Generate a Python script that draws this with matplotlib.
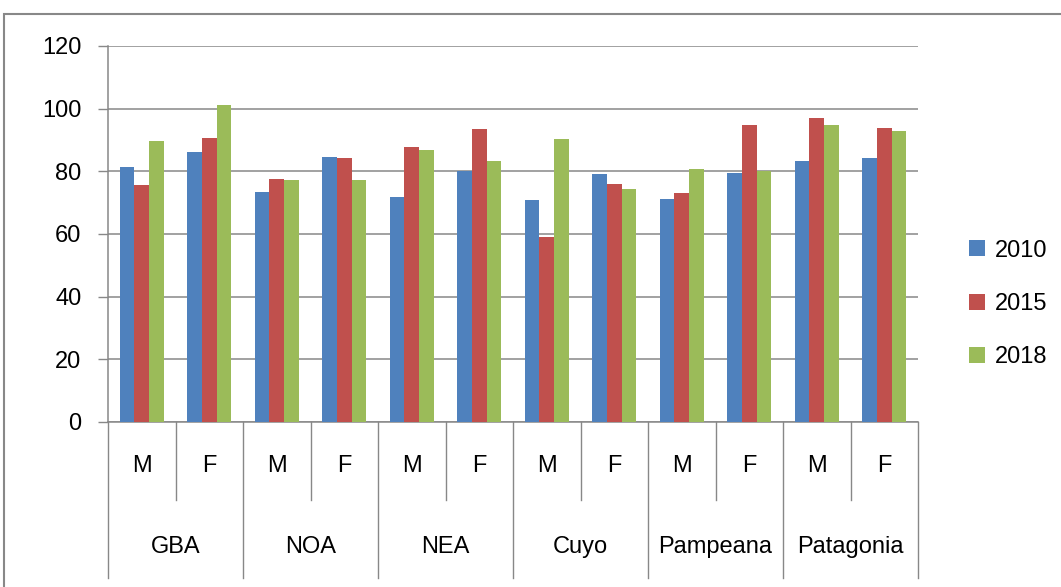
import matplotlib
matplotlib.use("Agg")
import matplotlib.pyplot as plt
import matplotlib.patches as mpatches
import matplotlib.transforms as mtransforms
import numpy as np

plt.rcParams['font.family'] = ['Liberation Sans', 'DejaVu Sans']

regions = ["GBA", "NOA", "NEA", "Cuyo", "Pampeana", "Patagonia"]
sexes = ["M", "F"]
years = ["2010", "2015", "2018"]
v2010 = [81.3, 86.1, 73.5, 84.6, 71.7, 80.2, 70.7, 79.0, 71.2, 79.5, 83.2, 84.1]
v2015 = [75.7, 90.5, 77.7, 84.1, 87.8, 93.4, 59.1, 75.9, 73.0, 94.8, 97.0, 93.8]
v2018 = [89.6, 101.3, 77.2, 77.2, 86.9, 83.3, 90.2, 74.4, 80.8, 80.1, 94.8, 92.9]
yticks = [0, 20, 40, 60, 80, 100, 120]

colors = ["#4F81BD", "#C0504D", "#9BBB59"]
grid_c = "#888888"
FS = 17
W, H = 1061, 587
fig = plt.figure(figsize=(W / 100, H / 100), dpi=100)
ax = fig.add_axes([108 / W, 1 - 422 / H, (918 - 108) / W, (422 - 46) / H])

n = len(regions) * len(sexes)
x = np.arange(n)
bw = 0.215
series = [v2010, v2015, v2018]
handles = []
for i, (vals, c, lab) in enumerate(zip(series, colors, years)):
    b = ax.bar(x + (i - 1) * bw, vals, width=bw, color=c, label=lab, zorder=3)
    handles.append(b)

ax.set_xlim(-0.5, n - 0.5)
ax.set_ylim(0, 120)
ax.set_yticks(yticks)
ax.set_yticklabels([str(t) for t in yticks], fontsize=FS)
ax.yaxis.grid(True, color=grid_c, lw=1.1, zorder=0)
ax.set_xticks([])
for s in ["top", "right"]:
    ax.spines[s].set_visible(False)
ax.spines["left"].set_color(grid_c)
ax.spines["bottom"].set_color(grid_c)
ax.spines["left"].set_linewidth(1.1)
ax.spines["bottom"].set_linewidth(1.1)
ax.tick_params(axis="y", length=7, width=1.0, color=grid_c, pad=12)

trans = mtransforms.blended_transform_factory(ax.transData, ax.transAxes)
# separators
for k in range(n + 1):
    xs = k - 0.5
    y1 = -0.415 if k % 2 == 0 else -0.2074
    ax.plot([xs, xs], [0, y1], color=grid_c, lw=1.0, transform=trans, clip_on=False)
# labels
for k in range(n):
    ax.text(k, -0.118, sexes[k % 2], transform=trans, ha="center", va="center", fontsize=FS)
for g, r in enumerate(regions):
    ax.text(2 * g + 0.5, -0.332, r, transform=trans, ha="center", va="center", fontsize=FS)

leg = fig.legend(handles=handles, labels=years, loc="center left",
                 bbox_to_anchor=(948 / W, 1 - 304 / H), frameon=False,
                 fontsize=FS, handlelength=0.65, handleheight=0.65,
                 handletextpad=0.45, labelspacing=1.33)

# outer chart frame
frame = mpatches.Rectangle((3.5 / W, -0.05), 1.1, 1 - 13.5 / H + 0.05,
                           transform=fig.transFigure, fill=False,
                           edgecolor=grid_c, lw=1.5, clip_on=False)
fig.patches.append(frame)

fig.savefig("out.png", dpi=100)
